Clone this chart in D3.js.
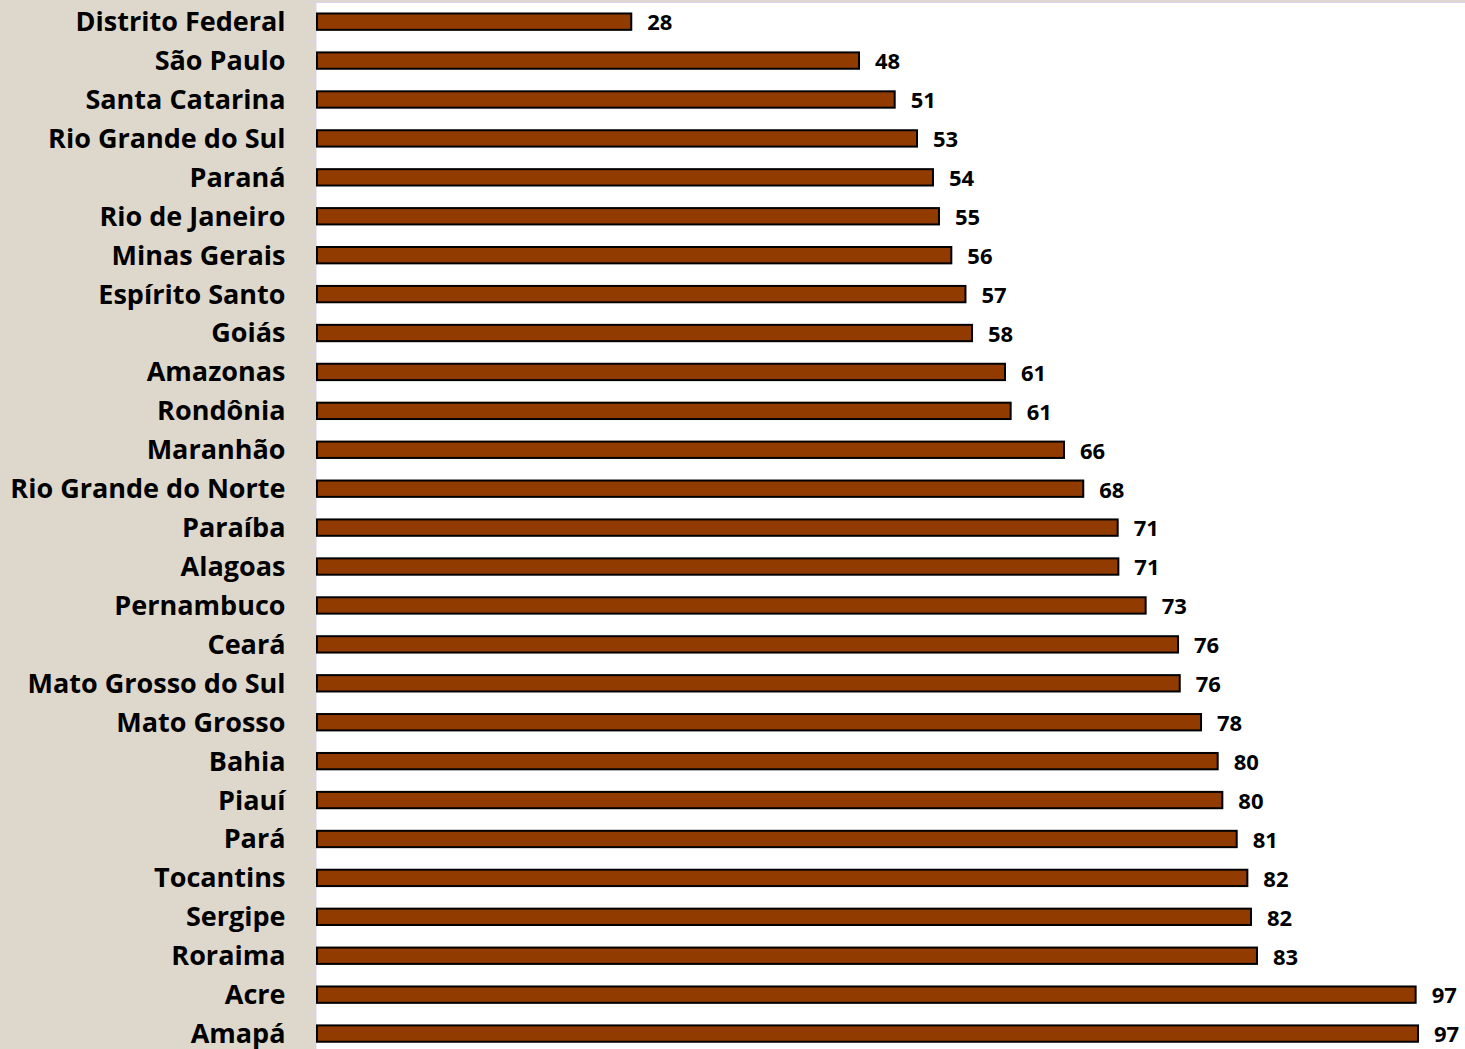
<!DOCTYPE html>
<html>
<head>
<meta charset="utf-8">
<script src="https://cdn.jsdelivr.net/npm/d3@7"></script>
<style>
  html, body { margin: 0; padding: 0; background: #ffffff; }
  svg { display: block; }
</style>
</head>
<body>
<svg id="chart" width="1465" height="1049"></svg>
<script>
const categories = [
  "Distrito Federal", "São Paulo", "Santa Catarina", "Rio Grande do Sul", "Paraná",
  "Rio de Janeiro", "Minas Gerais", "Espírito Santo", "Goiás", "Amazonas",
  "Rondônia", "Maranhão", "Rio Grande do Norte", "Paraíba", "Alagoas",
  "Pernambuco", "Ceará", "Mato Grosso do Sul", "Mato Grosso", "Bahia",
  "Piauí", "Pará", "Tocantins", "Sergipe", "Roraima", "Acre", "Amapá"
];
const values = [
  27.75, 47.86, 51.01, 52.98, 54.39,
  54.92, 56.01, 57.26, 57.84, 60.75,
  61.25, 65.96, 67.66, 70.70, 70.76,
  73.17, 76.03, 76.18, 78.06, 79.53,
  79.94, 81.21, 82.15, 82.47, 83.00, 97.01, 97.22
];
const xDomain = [0, 100];

const W = 1465, H = 1049;
const plotLeft = 316, plotTop = 2.2;
const step = 38.92;
const svg = d3.select("#chart");

const x = d3.scaleLinear().domain(xDomain).range([317, 1449.5]);
const y = d3.scaleBand().domain(categories)
  .range([plotTop, plotTop + step * categories.length])
  .paddingInner(0.58).paddingOuter(0.29);

// backgrounds
svg.append("rect").attr("x", 0).attr("y", 0).attr("width", W).attr("height", H).attr("fill", "#ded7cb");
svg.append("rect").attr("x", plotLeft).attr("y", plotTop).attr("width", W - plotLeft).attr("height", H - plotTop).attr("fill", "#ffffff");
svg.append("line").attr("x1", plotLeft).attr("x2", W).attr("y1", plotTop + 0.3).attr("y2", plotTop + 0.3)
  .attr("stroke", "#d8d2ee").attr("stroke-width", 1);

// axis
const yAxis = d3.axisLeft(y).tickSize(0).tickFormat(d => d);
const gAxis = svg.append("g").attr("transform", `translate(${plotLeft - 0.5},0)`).call(yAxis);
gAxis.select(".domain").attr("stroke", "#d8d2ee").attr("stroke-width", 1);
gAxis.selectAll(".tick text")
  .attr("x", -30)
  .attr("dy", "0.35em")
  .attr("fill", "#000")
  .style("font-family", "'Open Sans', sans-serif")
  .style("font-weight", "bold")
  .style("font-size", "27px");
// boundary tick marks
const bounds = d3.range(categories.length + 1).map(i => plotTop + i * step);
svg.append("g").selectAll("line").data(bounds).join("line")
  .attr("x1", plotLeft - 9).attr("x2", plotLeft)
  .attr("y1", d => d).attr("y2", d => d)
  .attr("stroke", "#d8d2ee").attr("stroke-width", 1);

// bars
svg.append("g").selectAll("rect").data(categories).join("rect")
  .attr("x", x(0))
  .attr("y", d => y(d))
  .attr("width", (d, i) => x(values[i]) - x(0))
  .attr("height", y.bandwidth())
  .attr("fill", "#923b00")
  .attr("stroke", "#000")
  .attr("stroke-width", 2);

// value labels
const fmt = d3.format(".0f");
svg.append("g").selectAll("text").data(categories).join("text")
  .attr("x", (d, i) => x(values[i]) + 16)
  .attr("y", d => y(d) + y.bandwidth() / 2 + 8.8)
  .attr("fill", "#000")
  .style("font-family", "'Open Sans', sans-serif")
  .style("font-weight", "bold")
  .style("font-size", "22px")
  .text((d, i) => fmt(values[i]));
</script>
</body>
</html>
